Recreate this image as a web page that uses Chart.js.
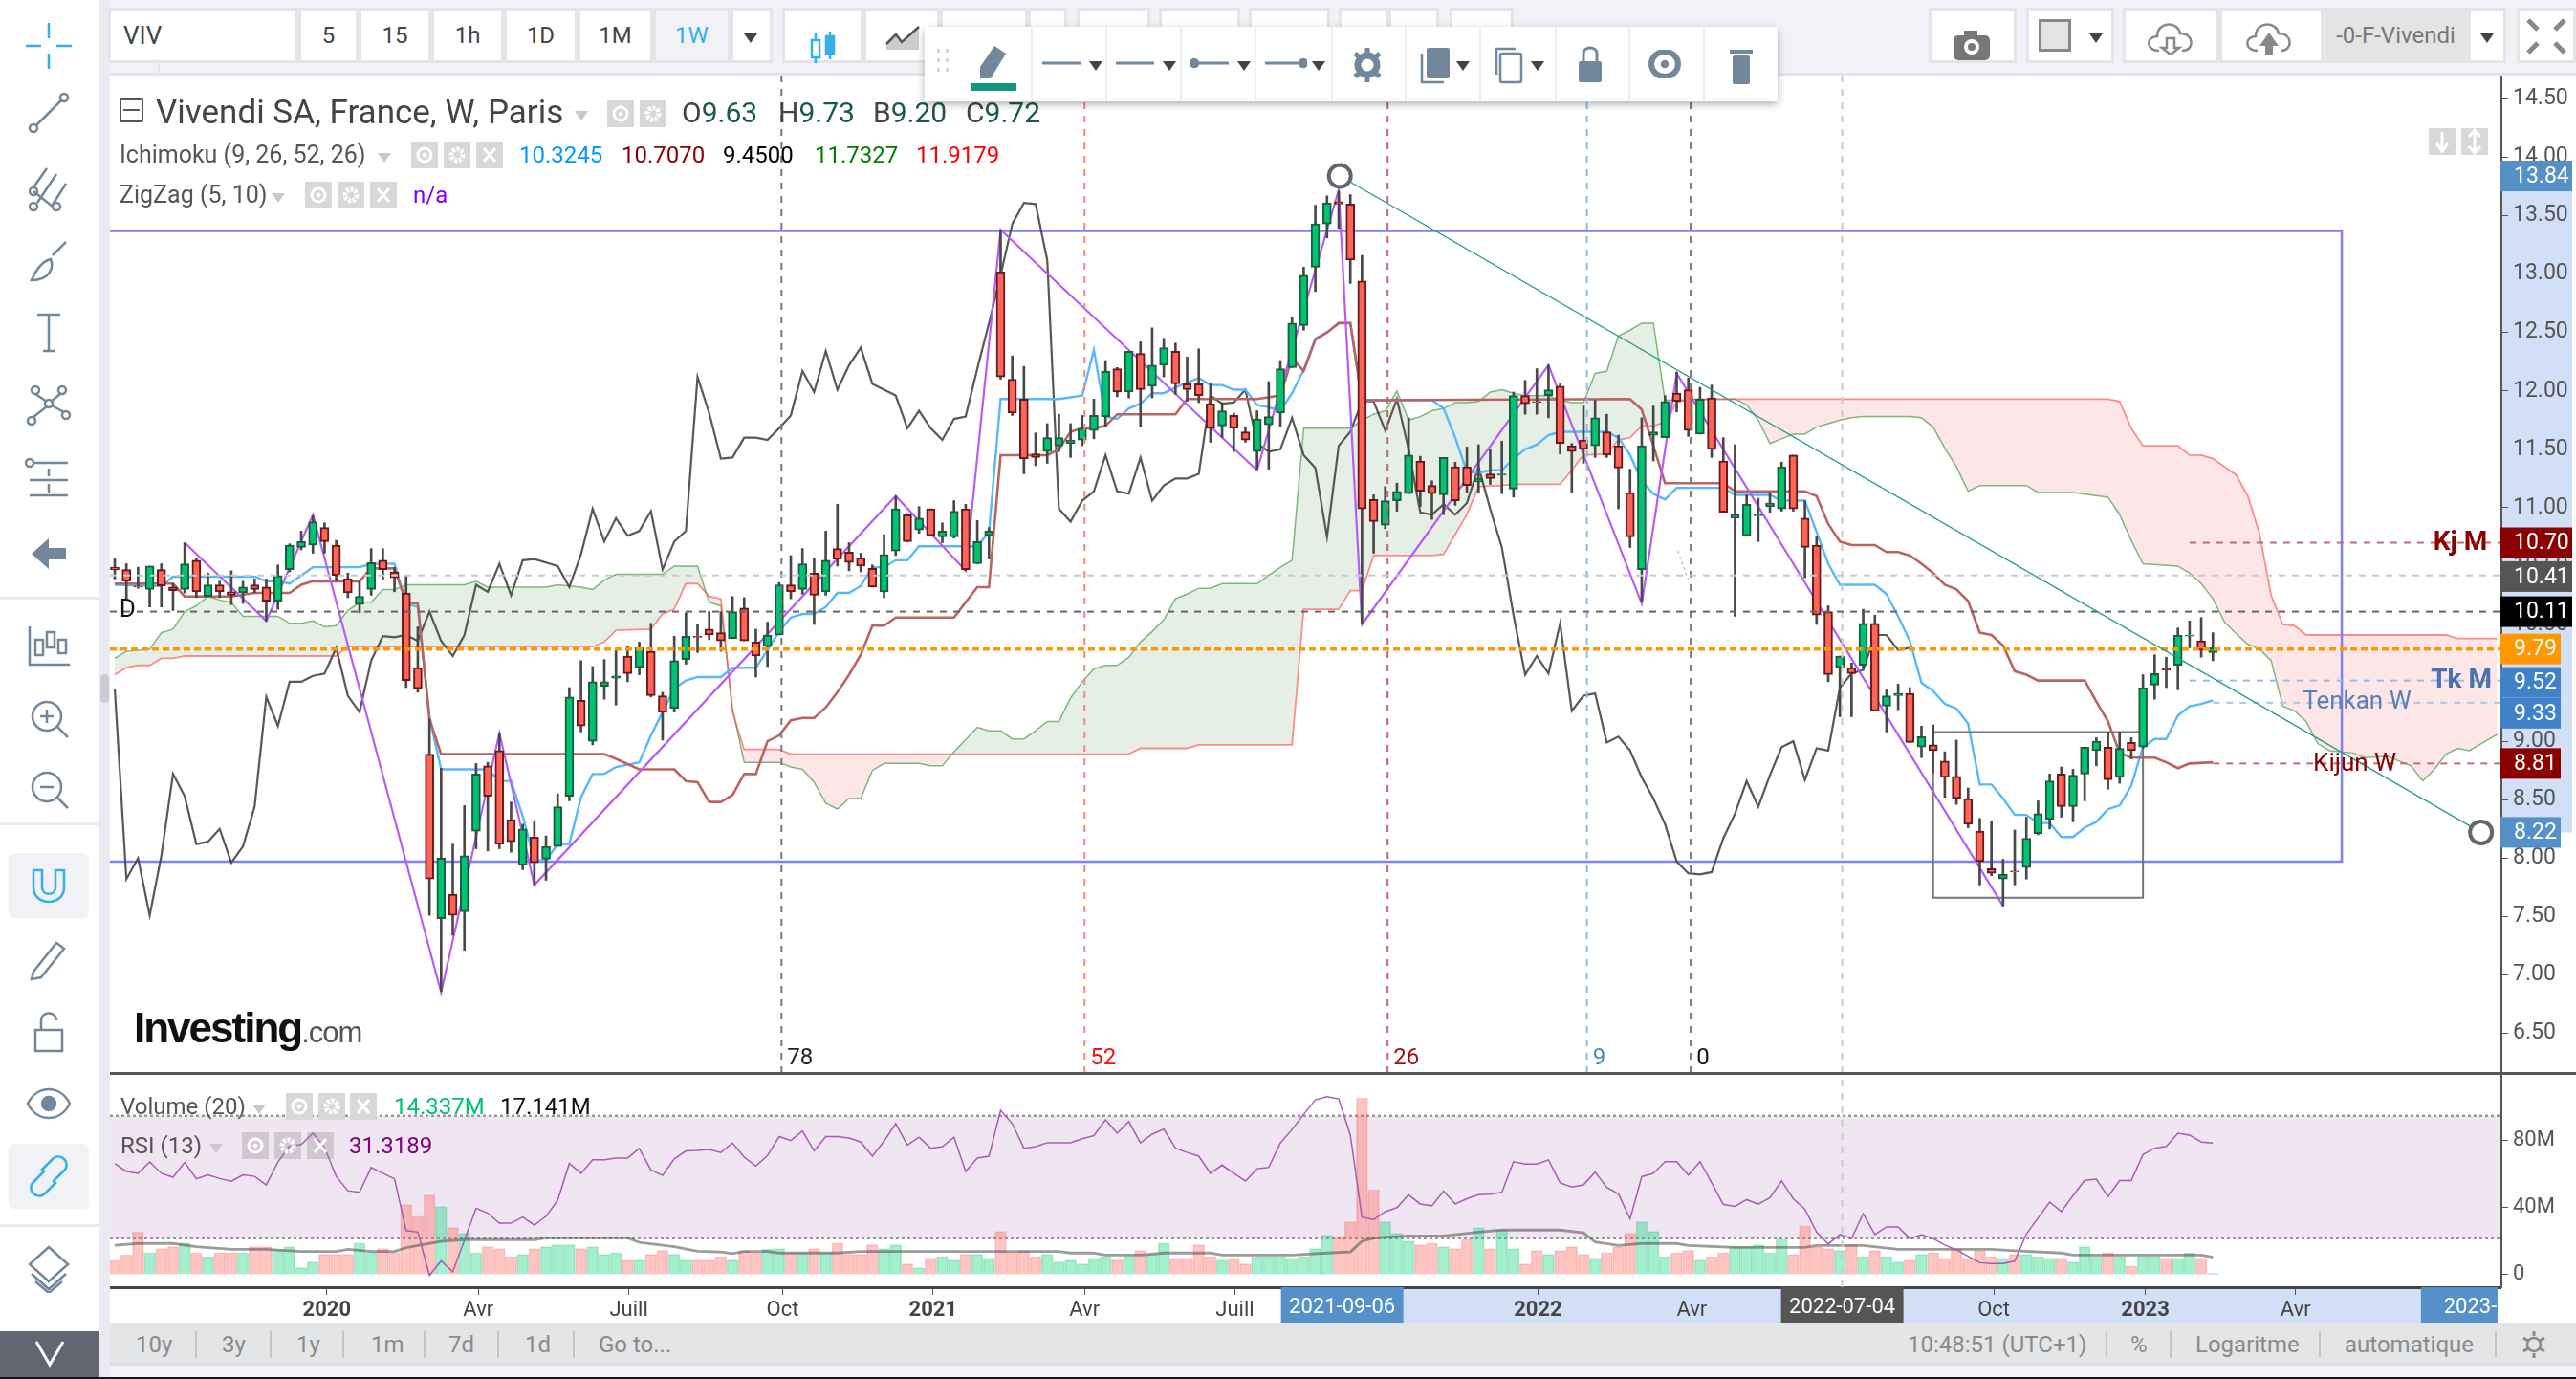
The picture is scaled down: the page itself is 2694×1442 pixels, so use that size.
<!DOCTYPE html>
<html>
<head>
<meta charset="utf-8">
<title>Vivendi SA</title>
<script src="https://cdn.jsdelivr.net/npm/chart.js@4"></script>
<style>
html,body{margin:0;padding:0;background:#f0f2f6;overflow:hidden;width:2694px;height:1442px;font-family:Roboto,sans-serif}
.abs{position:absolute;box-sizing:border-box;white-space:nowrap}
canvas{position:absolute}
</style>
</head>
<body>
<script>
// ローソク足 (週足 0..180)
const opens = [10.49,10.47,10.33,10.30,10.47,10.32,10.30,10.55,10.24,10.34,10.28,10.27,10.34,10.32,10.20,10.47,10.66,10.68,10.83,10.68,
10.39,10.17,10.30,10.55,10.45,10.27,9.63,8.89,7.48,7.69,7.54,8.23,8.79,8.92,8.33,7.94,8.18,7.99,8.10,8.53,
9.35,9.00,9.47,9.54,9.73,9.63,9.77,9.39,9.28,9.70,9.90,9.96,9.93,9.88,10.14,9.85,9.81,9.91,10.34,10.30,
10.44,10.28,10.65,10.62,10.57,10.48,10.28,10.63,10.94,10.81,10.99,10.75,10.75,10.99,10.52,10.76,13.02,12.10,11.93,11.46,
11.48,11.53,11.55,11.58,11.66,11.78,12.19,11.99,12.32,12.04,12.22,12.34,12.06,12.06,11.89,11.70,11.79,11.65,11.48,11.71,
11.81,12.20,12.56,13.06,13.43,13.62,13.60,12.94,11.07,10.85,11.06,11.12,11.40,11.19,11.11,11.35,11.35,11.22,11.29,11.28,
11.16,11.96,11.91,11.96,12.04,11.53,11.58,11.53,11.65,11.53,11.13,10.47,11.62,11.60,11.98,12.01,11.63,11.94,11.40,10.91,
10.76,10.93,11.01,10.99,11.45,10.91,10.68,10.11,9.63,9.63,9.65,10.01,9.30,9.39,9.41,8.95,8.97,8.83,8.70,8.51,
8.23,7.91,7.82,7.89,7.92,8.21,8.33,8.72,8.44,8.72,8.92,8.95,8.69,8.99,8.95,9.48,9.62,9.65,9.90,9.86,9.76];
const highs = [10.57,10.52,10.49,10.50,10.52,10.35,10.70,10.57,10.44,10.37,10.46,10.37,10.39,10.39,10.51,10.69,10.80,10.93,10.87,10.72,
10.44,10.37,10.65,10.65,10.49,10.42,9.98,9.19,8.77,8.12,8.45,8.81,8.82,9.07,8.48,8.29,8.32,8.19,8.55,9.46,
9.69,9.64,9.70,9.79,9.81,9.85,10.01,9.42,9.90,10.10,10.00,10.11,10.11,10.24,10.23,9.96,10.02,10.36,10.59,10.65,
10.57,10.80,11.03,10.70,10.61,10.51,10.77,11.10,10.95,11.01,10.99,10.87,11.06,11.03,10.89,10.83,13.38,12.30,12.21,11.64,
11.72,11.80,11.72,11.79,11.93,12.26,12.20,12.34,12.42,12.54,12.45,12.41,12.29,12.36,12.06,11.90,11.81,11.69,11.83,12.08,
12.26,12.63,13.06,13.59,13.67,13.71,13.68,13.16,11.11,11.18,11.21,11.77,11.44,11.23,11.43,11.39,11.52,11.54,11.50,11.57,
11.99,12.09,12.19,12.22,12.06,11.55,11.87,11.92,11.80,11.62,11.33,11.77,11.87,11.96,12.16,12.11,12.03,12.05,11.60,11.54,
11.11,11.08,11.13,11.39,11.45,11.06,10.75,10.16,9.73,9.67,10.13,10.08,9.44,9.49,9.46,9.13,9.14,8.91,9.01,8.60,
8.34,8.32,7.99,8.24,8.35,8.49,8.72,8.78,8.76,8.95,9.03,9.08,9.08,9.03,9.57,9.74,9.72,9.97,10.03,10.06,9.93];
const lows = [10.39,10.22,10.31,10.15,10.15,10.12,10.27,10.23,10.24,10.23,10.17,10.18,10.27,10.03,10.13,10.45,10.64,10.61,10.61,10.37,
10.23,10.10,10.25,10.38,10.28,9.46,9.42,7.51,6.86,7.34,7.21,8.08,8.06,8.08,8.05,7.90,7.77,7.81,8.10,8.49,
9.08,8.97,9.36,9.31,9.51,9.57,9.38,9.01,9.25,9.66,9.76,9.87,9.77,9.88,9.86,9.55,9.64,9.91,10.22,10.26,
10.00,10.25,10.50,10.46,10.45,10.32,10.23,10.59,10.71,10.78,10.76,10.70,10.74,10.46,10.52,10.56,12.10,11.79,11.29,11.36,
11.38,11.48,11.43,11.53,11.59,11.69,11.95,11.94,11.69,11.94,12.12,11.97,11.91,11.90,11.56,11.60,11.48,11.56,11.33,11.33,
11.69,12.20,12.52,12.85,13.31,13.39,12.92,10.01,10.61,10.82,10.97,11.12,11.01,10.90,10.94,11.02,11.13,11.13,11.20,11.12,
11.09,11.80,11.80,11.77,11.46,11.13,11.38,11.43,11.43,10.99,10.66,10.20,11.40,11.60,11.82,11.61,11.63,11.43,10.96,10.07,
10.76,10.71,10.96,10.97,10.97,10.40,10.00,9.51,9.21,9.21,9.62,9.26,9.08,9.27,8.99,8.86,8.73,8.52,8.46,8.26,
7.77,7.85,7.59,7.77,7.82,8.20,8.25,8.35,8.31,8.49,8.79,8.59,8.64,8.85,8.94,9.36,9.46,9.44,9.80,9.72,9.69];
const closes = [10.47,10.37,10.32,10.50,10.33,10.29,10.52,10.28,10.34,10.28,10.25,10.32,10.30,10.20,10.42,10.68,10.71,10.88,10.71,10.42,
10.27,10.24,10.53,10.47,10.40,9.52,9.45,7.82,8.00,7.51,8.02,8.72,8.53,8.12,8.14,8.25,7.96,8.10,8.44,9.38,
9.13,9.51,9.51,9.56,9.58,9.80,9.39,9.25,9.69,9.90,9.89,9.91,9.86,10.11,9.86,9.73,9.91,10.34,10.28,10.52,
10.25,10.55,10.56,10.53,10.50,10.32,10.60,10.99,10.71,10.91,10.76,10.80,10.97,10.47,10.71,10.80,12.12,11.81,11.42,11.43,
11.60,11.60,11.58,11.68,11.79,12.17,11.99,12.34,12.01,12.22,12.37,12.06,12.01,11.96,11.68,11.83,11.68,11.58,11.76,11.78,
12.19,12.58,12.99,13.43,13.61,13.60,13.12,10.99,10.88,11.06,11.14,11.45,11.14,11.12,11.43,11.06,11.19,11.25,11.25,11.29,
11.96,11.89,11.90,12.01,11.55,11.48,11.50,11.77,11.45,11.34,10.75,11.53,11.65,11.91,11.91,11.66,11.93,11.50,10.96,10.94,
11.03,10.94,11.04,11.35,10.99,10.66,10.08,9.57,9.73,9.58,10.01,9.26,9.39,9.41,8.99,9.04,8.92,8.69,8.51,8.29,
7.97,7.87,7.86,7.88,8.17,8.38,8.66,8.44,8.71,8.95,9.00,8.67,8.94,8.92,9.46,9.58,9.61,9.91,9.91,9.78,9.80];

// 一目均衡表 [週, 値]
const tenkan = [[0,10.34],[3,10.33],[4,10.33],[5,10.41],[12,10.41],[13,10.37],[14,10.37],[15,10.35],[17,10.49],[21,10.49],[22,10.52],[24,10.52],[25,10.18],[26,10.15],[27,9.21],[28,8.76],[32,8.76],[33,8.66],[34,8.66],[35,8.36],[36,7.98],[37,7.98],[38,8.12],[39,8.12],[40,8.52],[41,8.72],[42,8.72],[43,8.78],[45,8.82],[46,9.05],[47,9.25],[48,9.45],[49,9.52],[50,9.55],[52,9.55],[53,9.63],[55,9.63],[56,9.78],[57,9.94],[58,10.06],[59,10.09],[60,10.09],[61,10.15],[62,10.27],[63,10.27],[64,10.33],[65,10.49],[66,10.49],[67,10.55],[68,10.55],[69,10.67],[74,10.67],[75,10.79],[76,11.93],[81,11.93],[83,11.96],[84,12.35],[85,11.78],[86,11.76],[87,11.85],[88,11.89],[89,11.98],[90,11.98],[91,12.03],[92,12.07],[93,12.11],[94,12.05],[95,12.05],[96,12.01],[97,12.01],[98,11.88],[99,11.86],[100,11.83],[101,11.98],[102,12.18],[103,12.45],[104,12.50],[105,12.58],[106,12.58],[107,11.92],[113,11.92],[114,11.85],[115,11.60],[116,11.31],[117,11.30],[118,11.32],[119,11.32],[120,11.42],[121,11.50],[122,11.54],[123,11.62],[124,11.65],[128,11.65],[129,11.60],[130,11.45],[131,11.23],[132,11.12],[133,11.07],[134,11.17],[138,11.17],[139,11.11],[142,11.11],[143,11.06],[145,11.06],[146,10.79],[147,10.52],[148,10.34],[151,10.34],[152,10.26],[153,10.07],[154,9.86],[155,9.50],[156,9.43],[157,9.32],[158,9.28],[159,9.15],[160,8.63],[161,8.63],[162,8.51],[163,8.37],[164,8.37],[165,8.30],[166,8.30],[167,8.18],[168,8.18],[169,8.26],[170,8.31],[171,8.42],[172,8.45],[173,8.62],[174,8.95],[175,9.02],[176,9.02],[177,9.22],[178,9.30],[179,9.32],[180,9.35]];
const kijun = [[0,10.35],[5,10.35],[6,10.24],[10,10.24],[12,10.27],[15,10.27],[16,10.34],[17,10.37],[21,10.37],[22,10.48],[24,10.48],[25,10.19],[26,10.18],[27,9.19],[28,8.89],[42,8.89],[43,8.85],[45,8.76],[48,8.76],[49,8.66],[50,8.65],[51,8.48],[52,8.48],[53,8.54],[54,8.72],[55,8.72],[56,9.00],[57,9.05],[58,9.18],[59,9.20],[60,9.20],[61,9.29],[62,9.42],[63,9.57],[64,9.74],[65,9.99],[66,9.99],[67,10.06],[72,10.06],[73,10.19],[74,10.32],[75,10.32],[76,11.45],[80,11.45],[81,11.50],[82,11.65],[83,11.68],[84,11.68],[85,11.70],[86,11.80],[91,11.80],[92,11.93],[98,11.93],[100,11.96],[101,12.28],[102,12.17],[103,12.44],[104,12.50],[105,12.58],[106,12.58],[107,11.92],[130,11.93],[131,11.84],[132,11.53],[133,11.21],[138,11.21],[139,11.14],[145,11.14],[146,11.10],[147,10.86],[148,10.71],[149,10.68],[151,10.68],[152,10.62],[153,10.62],[154,10.59],[155,10.52],[156,10.44],[157,10.34],[158,10.30],[159,10.20],[160,9.93],[161,9.91],[162,9.82],[163,9.60],[164,9.57],[165,9.52],[169,9.52],[170,9.34],[171,9.17],[172,8.90],[173,8.86],[175,8.86],[176,8.82],[177,8.77],[178,8.81],[180,8.82]];
const senkouA = [[0,9.71],[1,9.77],[3,9.79],[4,9.93],[5,9.96],[6,10.11],[7,10.16],[8,10.24],[9,10.21],[10,10.19],[11,10.07],[14,10.07],[15,10.01],[16,10.01],[17,10.03],[18,9.98],[19,9.99],[20,10.12],[21,10.19],[22,10.19],[23,10.30],[24,10.30],[25,10.34],[30,10.34],[31,10.37],[32,10.32],[37,10.32],[38,10.34],[40,10.32],[41,10.30],[42,10.38],[43,10.43],[47,10.43],[48,10.50],[50,10.50],[51,10.19],[52,10.16],[53,9.28],[54,8.82],[57,8.82],[58,8.78],[59,8.76],[60,8.65],[61,8.47],[62,8.42],[63,8.51],[64,8.51],[65,8.75],[66,8.81],[69,8.81],[70,8.79],[71,8.79],[72,8.91],[74,9.12],[75,9.09],[76,9.09],[77,9.02],[78,9.02],[79,9.09],[80,9.17],[81,9.17],[82,9.37],[83,9.51],[84,9.62],[85,9.65],[86,9.65],[87,9.72],[88,9.85],[89,9.94],[90,10.04],[91,10.22],[92,10.26],[93,10.31],[94,10.31],[95,10.35],[98,10.35],[99,10.42],[100,10.49],[101,10.55],[102,11.68],[106,11.68],[107,11.75],[108,11.80],[109,11.83],[110,12.00],[111,11.75],[112,11.78],[113,11.83],[114,11.85],[115,11.90],[116,11.90],[117,11.91],[118,11.99],[119,12.01],[120,11.98],[121,11.96],[123,11.96],[124,11.92],[125,11.90],[126,11.90],[127,12.15],[128,12.17],[129,12.47],[130,12.52],[131,12.58],[132,12.58],[133,11.92],[139,11.93],[140,11.88],[141,11.75],[142,11.55],[143,11.59],[144,11.63],[145,11.63],[146,11.69],[147,11.72],[148,11.75],[149,11.77],[150,11.78],[154,11.78],[155,11.77],[156,11.69],[157,11.51],[158,11.35],[159,11.14],[160,11.19],[164,11.19],[165,11.13],[168,11.13],[171,11.09],[172,10.94],[173,10.72],[174,10.52],[177,10.50],[178,10.44],[179,10.35],[180,10.22],[181,10.02],[182,9.92],[183,9.83],[184,9.79],[185,9.69],[186,9.30],[187,9.26],[188,9.17],[189,8.98],[190,8.92],[191,8.91],[192,8.90],[193,8.86],[195,8.87],[197,8.79],[198,8.66],[199,8.76],[200,8.89],[201,8.94],[202,8.92],[204.4,9.06]];
const senkouB = [[0,9.57],[1,9.63],[2,9.65],[3,9.65],[4,9.71],[5,9.71],[6,9.73],[19,9.73],[20,9.81],[41,9.81],[42,9.85],[43,9.95],[46,9.96],[47,10.09],[48,10.13],[49,10.35],[50,10.35],[51,10.24],[52,10.22],[53,9.25],[54,8.93],[57,8.93],[58,8.89],[87,8.89],[88,8.94],[92,8.94],[93,8.97],[101,8.97],[102,10.13],[105,10.13],[106,10.29],[107,10.29],[108,10.59],[113,10.59],[114,10.60],[116,10.94],[117,11.18],[119,11.19],[120,11.20],[124,11.20],[125,11.32],[126,11.45],[128,11.46],[129,11.58],[130,11.60],[131,11.70],[132,11.70],[133,11.73],[134,11.90],[135,11.93],[171,11.93],[172,11.91],[173,11.68],[174,11.53],[177,11.53],[178,11.45],[179,11.45],[180,11.42],[182,11.28],[183,11.10],[184,10.78],[185,10.25],[186,10.00],[187,9.99],[188,9.91],[200,9.91],[201,9.88],[204.4,9.88]];
const zigzag = [[6,10.70],[13,10.03],[17,10.94],[28,6.85],[33,9.07],[36,7.77],[67,11.10],[73,10.46],[76,13.38],[98,11.32],[105,13.72],[107,10.00],[123,12.22],[131,10.18],[134,12.15],[162,7.59]];

// 描画オブジェクト
const frameWeeks = [-0.41,191.06], frameTop = 13.37, frameBottom = 7.97;
const boxWeeks = [156,174], boxTop = 9.08, boxBottom = 7.66;
const trendWeeks = [105.1,203], trendPrices = [13.84,8.22];
const cycleWeeks = [57.2,83.2,109.2,126.3,135.2];
const cycleLabels = ['78','52','26','9','0'];
const cycleColors = ['#777777','#ff8080','#c46a6a','#8fbce6','#777777'];
const cycleTextColors = ['#222222','#ee1111','#9b1111','#4488cc','#111111'];
const cursorWeek = 148.2;
const levelPrices = [10.42,10.11,9.79];
const levelColors = ['#c9c9c9','#666666','#ff9800'];
const shortWeeks = [178,178,180,180];
const shortPrices = [10.70,9.52,9.33,8.81];
const shortColors = ['#bf6f6f','#9db9df','#a9c6e6','#bf6f6f'];
const noteTexts = ['D','Kj M','Tk M','Tenkan W','Kijun W'];
const noteWeeks = [0.4,198.9,198.7,187.7,188.6];
const notePrices = [10.12,10.70,9.52,9.33,8.80];
const noteColors = ['#111111','#8b0000','#4a72b0','#5b80b8','#8b0000'];
const noteBold = [false,true,true,false,false];

// 右軸の価格ラベル
const priceTicks = [6.5,7,7.5,8,8.5,9,9.5,10,10.5,11,11.5,12,12.5,13,13.5,14,14.5];
const flagPrices = [13.84,10.70,10.41,10.11,9.79,9.52,9.33,8.81,8.22];
const flagColors = ['#5590c8','#8b0000','#555555','#000000','#ff9800','#3f82c8','#3f82c8','#8b0000','#5590c8'];
const flagWide = [true,true,true,true,false,false,false,false,false];
const flagShift = [0,0,0,0,0,2,11,0,0];

// 出来高 (百万株)
const volume = [8.6,12,25.7,13.3,15.6,16.8,19,13.3,11,13.3,13.3,13.3,16.8,16.8,14.9,16.8,4.2,7.6,12.2,12.2,
12.2,19,13.3,15.6,13.3,41.9,35,47.6,40.8,28.2,24.8,13.3,16.8,15.6,11,12.2,15.6,16.8,17.9,17.9,
15.6,16.8,12.2,13.3,8.8,8.8,12.2,14.5,12.2,8.8,8.8,8.8,11,8.8,14.5,13.3,15.2,15.6,13.3,13.3,
15.6,13.3,19,12.2,12.2,17.9,15.6,17.9,6.5,4.2,9.9,11,8.8,12.2,12.2,9.9,25.9,13.3,14.5,11,
12.2,7.6,8.8,6.5,9.9,11,8.8,11,14.5,12.2,19,9.9,9.9,17.9,11,8.8,9.9,6.5,11,11,
11,9.9,11,15.6,23.6,22.5,31.6,105.7,51,31.6,24.8,20.2,17.9,19,16.8,15.6,21.3,28.2,15.6,27,
15.6,6.5,14.5,12.2,14.5,16.8,12.2,9.9,13.3,16.8,24.8,31.6,25.9,11,13.3,14.5,8.8,11,13.3,16.8,
16.8,17.9,13.3,21.3,12.2,29.3,16.8,15.6,14.5,17.9,11,14.5,11,7.6,8.8,12.2,13.3,9.9,15.6,9.9,
14.5,11,9.9,12.2,12.2,11,9.9,9.9,7.6,16.8,11,13.3,11,5.3,11,11,9.9,9.9,13.3,9.9,0.8];
const volumeAvg = [[0,17.7],[2,18.7],[5,18.7],[7,16.8],[10,15.2],[13,15.2],[16,13.9],[19,13.9],[20,15.2],[22,13.9],[24,13.9],[25,16.2],[28,20],[30,21],[36,21],[37,22.1],[44,22.1],[45,19.4],[48,16.8],[50,14.1],[52,13.7],[53,12.6],[54,13.9],[56,13.9],[57,13],[62,13],[64,13.9],[81,13.9],[82,13],[84,13],[85,11.8],[88,11.8],[90,13],[94,13],[95,11.8],[101,11.8],[104,13],[106,13.7],[107,20],[108,21.9],[111,23.2],[114,23.2],[117,25.5],[119,26.7],[124,26.7],[126,25.1],[127,19.6],[129,17.5],[131,18.7],[134,18.7],[135,17.5],[139,16.4],[145,16.4],[146,17.5],[150,17.5],[153,15.2],[161,15.2],[163,14.3],[167,13],[168,11.8],[179,11.8],[180,10.5]];
const volumeTicks = [0,40,80];

// RSI
const rsi = [54.4,51.8,51.2,54.9,51.2,49.9,54.8,49.4,50.7,49.5,48.6,50.7,50.2,47.4,54.9,60.1,60.6,64.3,59.6,50.2,
45.5,45.0,53.1,51.2,49.4,32.5,32.0,17.9,22.6,19.0,29.4,39.8,38.2,34.9,34.9,36.9,34.3,37.2,42.4,54.4,
51.2,55.6,55.6,56.2,56.2,59.3,52.3,50.5,55.9,58.5,58.7,59.0,58.0,61.1,56.5,53.6,57.0,63.2,61.9,65.0,
58.5,63.2,63.2,62.7,61.4,56.8,61.7,67.4,60.4,63.0,59.4,59.9,63.0,51.8,56.2,56.8,71.8,67.4,59.4,59.9,
61.2,61.2,61.2,62.5,63.5,68.7,64.3,68.1,61.1,64.0,65.6,59.4,58.0,56.8,51.2,53.9,51.2,48.7,52.7,53.1,
61.1,65.5,70.5,75.2,76.2,75.5,63.7,36.9,36.1,38.7,40.0,44.2,41.2,40.6,45.4,41.2,42.9,44.2,44.4,45.0,
55.0,54.2,54.2,55.6,48.1,46.7,47.4,51.6,46.6,44.5,36.3,50.1,51.2,55.0,55.0,50.6,55.0,48.1,41.0,40.4,
42.6,41.1,43.2,48.7,42.9,39.5,32.0,28.1,31.2,29.9,38.0,31.2,33.7,33.7,29.9,31.2,29.9,27.8,26.2,24.1,
22.0,21.7,21.7,22.5,31.4,36.6,41.8,38.7,43.9,48.9,49.3,43.6,48.8,48.8,57.3,59.4,60.0,64.3,63.7,61.4,61.1];
const rsiUpper = 70, rsiLower = 30;

// 時間軸
const xTickWeeks = [18.2,31.2,44.1,57.3,70.2,83.2,96.1,122.1,135.3,161.2,174.2,187.1];
const xTickLabels = ['2020','Avr','Juill','Oct','2021','Avr','Juill','2022','Avr','Oct','2023','Avr'];
const xFlagWeeks = [105.3,148.2,203.1];
const xFlagLabels = ['2021-09-06','2022-07-04','2023-07'];
const xFlagColors = ['#5590c8','#555555','#5590c8'];

const xMin = -0.41, xMax = 204.67;
const UP = '#00c473', UP_EDGE = '#1f5c3e', DOWN = '#ff6459', DOWN_EDGE = '#661a1a';
const FONT = 'Roboto, sans-serif';

// ---- 画面の枠 (ツールバー類) ----
function box(x, y, w, h, css, html) {
    const d = document.createElement('div');
    d.className = 'abs';
    d.style.cssText = `left:${x}px;top:${y}px;width:${w}px;height:${h}px;${css || ''}`;
    if (html) d.innerHTML = html;
    document.body.appendChild(d);
    return d;
}
function text(x, y, str, size, color, extra) {
    return box(x, y - size, 0, size * 2, `font-size:${size}px;line-height:${size * 2}px;color:${color};${extra || ''}`, str);
}
function cell(x, w, css, str, size, color) {
    box(x, 8, w, 58, 'background:#fff;border:3px solid #e3e5e8;text-align:center;line-height:52px;' +
        `font-size:${size || 24}px;color:${color || '#444'};` + (css || ''), str || '');
}
function icon(x, y, w, h, inner, stroke) {
    box(x, y, w, h, '', `<svg width="${w}" height="${h}" viewBox="0 0 ${w} ${h}" fill="none" stroke="${stroke || '#73879b'}" stroke-width="2.5">${inner}</svg>`);
}
function tri(x, y, c) {
    icon(x, y, 16, 12, `<path d="M1 1H15L8 11Z" fill="${c || '#444'}" stroke="none"/>`);
}
function chips(xs, y, dim) {
    xs.forEach((x, k) => {
        const glyph = k === 2 ? '<path d="M8 7L20 21M20 7L8 21" stroke="#fff" stroke-width="3"/>'
            : k === 0 ? '<circle cx="14" cy="14" r="7" stroke="#fff" stroke-width="3"/><circle cx="14" cy="14" r="2" fill="#fff" stroke="#fff"/>'
            : '<circle cx="14" cy="14" r="6" stroke="#fff" stroke-width="5" stroke-dasharray="3 1.5"/>';
        box(x, y, 28, 28, `background:${dim ? 'rgba(150,140,150,.35)' : '#d8d8d8'}`,
            `<svg width="28" height="28" fill="none">${glyph}</svg>`);
    });
}

box(0, 0, 104, 1442, 'background:#fff');
box(104, 0, 11, 1442, 'background:#e9ebf1');
box(115, 78, 2579, 1305, 'background:#fff');

// 上部ツールバー
cell(113, 199, 'text-align:left;padding-left:13px;font-size:26px', 'VIV');
[[312,63,'5'],[375,76,'15'],[451,76,'1h'],[527,77,'1D'],[604,79,'1M']].forEach(c => cell(c[0], c[1], '', c[2]));
cell(683, 81, 'background:#f0f2f5', '1W', 24, '#35b0e6');
cell(764, 44);
tri(777, 31);
cell(818, 85); cell(903, 80);
icon(846, 30, 30, 40, '<path d="M7 5V36M22 3V32" stroke="#35b0e6"/><rect x="3" y="12" width="8" height="18" fill="#fff" stroke="#35b0e6"/><rect x="18" y="8" width="8" height="18" fill="#35b0e6" stroke="#35b0e6"/>');
icon(925, 24, 38, 30, '<path d="M2 28V22L12 12L18 20L36 4V28Z" fill="#ccc" stroke="none"/><path d="M2 22L12 12L18 20L36 4" stroke="#555"/>');
[[983,92],[1075,41],[1126,77],[1212,85],[1306,85],[1400,52],[1452,53],[1516,67]].forEach(c => cell(c[0], c[1]));
cell(2017, 92); cell(2119, 92); cell(2220, 101); cell(2321, 109);
cell(2430, 151, 'background:#e4e4e4', '-0-F-Vivendi', 24, '#777');
cell(2581, 40); cell(2632, 62);
icon(2040, 30, 44, 36, '<rect x="3" y="7" width="38" height="26" rx="5" fill="#777" stroke="none"/><rect x="14" y="2" width="14" height="8" fill="#777" stroke="none"/><circle cx="22" cy="19" r="6" fill="#777" stroke="#fff" stroke-width="4"/>');
box(2132, 20, 34, 34, 'background:#e3e3e3;border:3px solid #888');
tri(2184, 31);
icon(2244, 20, 54, 38, '<path d="M14 33C0 33 0 18 12 18C12 2 34 2 36 15C50 14 52 33 38 33" stroke="#888"/><path d="M22 20V30H17L26 37L35 30H30V20Z" fill="#fff" stroke="#888"/>');
icon(2347, 20, 54, 38, '<path d="M14 33C0 33 0 18 12 18C12 2 34 2 36 15C50 14 52 33 38 33" stroke="#888"/><path d="M22 38V28H16L26 14L36 28H30V38Z" fill="#888" stroke="none"/>');
tri(2593, 31);
icon(2640, 17, 46, 42, '<path d="M4 4L14 14M42 4L32 14M4 38L14 28M42 38L32 28" stroke="#888" stroke-width="5"/>');
box(115, 66, 52, 12, 'border-right:2px solid #e3e5e8');
box(115, 76, 2579, 3, 'background:#e3e5e8');

// 左のツールバー
const ic = [
 [48,'<path d="M26 2V18M26 34V50M2 26H18M34 26H50" stroke="#35b0e6"/>'],
 [118,'<circle cx="10" cy="42" r="4"/><circle cx="42" cy="10" r="4"/><path d="M13 39L39 13"/>'],
 [198,'<circle cx="10" cy="28" r="4"/><circle cx="10" cy="44" r="4"/><circle cx="34" cy="44" r="4"/><path d="M10 24L24 4M14 40L34 10M30 42L44 20M10 28L30 44"/>'],
 [275,'<path d="M8 44C14 30 20 24 28 22C32 32 26 44 8 44ZM30 18L44 4"/>'],
 [349,'<path d="M14 6H38M26 6V44M20 44H32"/>'],
 [424,'<circle cx="12" cy="10" r="4"/><circle cx="40" cy="10" r="4"/><circle cx="8" cy="42" r="4"/><circle cx="44" cy="36" r="4"/><circle cx="26" cy="24" r="4"/><path d="M12 14L24 22M38 14L28 22M10 38L24 27M42 33L29 26"/>'],
 [502,'<circle cx="6" cy="8" r="4"/><path d="M10 8H46M6 26H46M26 14V22M26 30V40M6 42H46"/>'],
 [579,'<path d="M8 26L26 10V20H44V32H26V42Z" fill="#73879b" stroke="none"/>'],
 [675,'<path d="M6 6V46H48" /><rect x="12" y="20" width="8" height="16"/><rect x="24" y="12" width="8" height="16"/><rect x="36" y="20" width="8" height="14"/>'],
 [751,'<circle cx="24" cy="24" r="15"/><path d="M35 35L46 46M17 24H31M24 17V31"/>'],
 [825,'<circle cx="24" cy="24" r="15"/><path d="M35 35L46 46M17 24H31"/>'],
 [926,'<path d="M10 10V28C10 48 42 48 42 28V10H33V28C33 37 19 37 19 28V10Z" stroke="#35b0e6"/>'],
 [1002,'<path d="M10 40L34 10L42 16L18 46L8 48Z"/>'],
 [1079,'<rect x="12" y="24" width="28" height="22"/><path d="M18 24V14C18 4 34 4 34 14"/>'],
 [1154,'<path d="M4 26C14 6 38 6 48 26C38 46 14 46 4 26Z"/><circle cx="26" cy="26" r="7" fill="#73879b"/>'],
 [1230,'<path d="M18 20L30 8C38 0 50 12 42 20L30 32M34 32L22 44C14 52 2 40 10 32L22 20" stroke="#35b0e6"/>'],
 [1326,'<path d="M26 4L46 22L26 40L6 22ZM8 32L26 48L44 32M12 40L26 52L40 40"/>']
];
box(9, 892, 84, 68, 'background:#f0f2f6;border-radius:6px');
box(9, 1196, 84, 68, 'background:#f0f2f6;border-radius:6px');
ic.forEach(a => icon(25, a[0] - 26, 52, 52, a[1]));
[[0,624],[0,860],[0,1280]].forEach(a => box(a[0], a[1], 104, 3, 'background:#e3eef3'));
box(0, 1392, 104, 48, 'background:#636670');
icon(35, 1400, 34, 30, '<path d="M3 3L17 27L31 3" stroke="#fff" stroke-width="3"/>');
box(105, 705, 9, 30, 'background:#c9ccd2;border-radius:4px');

// キャンバス
const priceCanvas = document.createElement('canvas');
priceCanvas.width = 2575; priceCanvas.height = 1043;
priceCanvas.style.cssText = 'left:115px;top:79px';
document.body.appendChild(priceCanvas);
const lowerCanvas = document.createElement('canvas');
lowerCanvas.width = 2575; lowerCanvas.height = 260;
lowerCanvas.style.cssText = 'left:115px;top:1123px';
document.body.appendChild(lowerCanvas);
box(115, 1121, 2579, 3, 'background:#555');

// 下部バー
box(115, 1383, 2579, 45, 'background:#e4e5e7;border-bottom:3px solid #dcdee0');
box(0, 1440, 2694, 2, 'background:#10151c');
[[142,'10y'],[232,'3y'],[310,'1y'],[388,'1m'],[469,'7d'],[549,'1d'],[626,'Go to...'],[1995,'10:48:51 (UTC+1)'],[2228,'%'],[2296,'Logaritme'],[2452,'automatique']]
    .forEach(a => text(a[0], 1406, a[1], 24, '#8a8a8a'));
[204,282,358,443,520,599,2202,2269,2425,2609].forEach(x => box(x, 1392, 2, 28, 'background:#c4c5c7'));
icon(2636, 1390, 28, 32, '<circle cx="14" cy="16" r="7" stroke="#8a8a8a"/><path d="M14 2V7M14 25V30M3 9L8 12M20 20L25 23M3 23L8 20M20 12L25 9" stroke="#8a8a8a" stroke-width="3"/>');

// 凡例
box(125, 103, 25, 25, 'border:2px solid #555;border-radius:2px', '<div style="margin:9px 2px;height:2px;background:#555"></div>');
text(163, 118, 'Vivendi SA, France, W, Paris', 35, '#444');
tri(600, 112, '#c9c9c9');
chips([635,669], 105);
[[713,'O','9.63'],[814,'H','9.73'],[913,'B','9.20'],[1010,'C','9.72']].forEach(a =>
    text(a[0], 118, `<span style="color:#444">${a[1]}</span>${a[2]}`, 30, '#1a5c3e'));
text(125, 162, 'Ichimoku (9, 26, 52, 26)', 25, '#555');
tri(394, 156, '#c9c9c9');
chips([430,464,498], 148);
[[543,'10.3245','#0099ff'],[650,'10.7070','#8b0000'],[756,'9.4500','#000'],[852,'11.7327','#008000'],[958,'11.9179','#ff0000']].forEach(a =>
    text(a[0], 162, a[1], 24, a[2]));
text(125, 204, 'ZigZag (5, 10)', 25, '#555');
tri(283, 198, '#c9c9c9');
chips([319,353,387], 190);
text(432, 204, 'n/a', 24, '#8000ff');
[[2540,'M14 4V22M8 16L14 24L20 16'],[2574,'M14 2V26M8 9L14 2L20 9M8 19L14 26L20 19']].forEach(a =>
    box(a[0], 134, 28, 28, 'background:#d8d8d8', `<svg width="28" height="28" fill="none" stroke="#fff" stroke-width="3"><path d="${a[1]}"/></svg>`));
text(140, 1075, '<span style="font-family:\'Liberation Sans\';font-weight:700;letter-spacing:-2px;color:#111">Investing</span><span style="font-family:\'Liberation Sans\';font-size:31px;color:#555;letter-spacing:-1px">.com</span>', 44, '#111');
text(126, 1157, 'Volume (20)', 24, '#555');
tri(263, 1151, '#c9c9c9');
chips([299,333,366], 1143);
text(412, 1157, '14.337M', 24, '#00c176');
text(523, 1157, '17.141M', 24, '#111');
text(126, 1198, 'RSI (13)', 24, '#555');
tri(218, 1192, '#c9c9c9');
chips([253,287,321], 1184, true);
text(365, 1198, '31.3189', 24, '#800080');

// フローティングツールバー
box(967, 28, 892, 78, 'background:#fff;box-shadow:0 3px 8px rgba(0,0,0,.3)');
[1078,1156,1234,1312,1392,1469,1547,1626,1703,1781].forEach(x => box(x, 28, 2, 78, 'background:#eceef0'));
icon(977, 50, 20, 30, '<path d="M3 3H6M12 3H15M3 13H6M12 13H15M3 23H6M12 23H15" stroke="#d5d5d5" stroke-width="4"/>');
icon(1022, 46, 40, 36, '<path d="M3 36L3 24L18 2L30 10L14 36Z" fill="#73879b" stroke="none"/>');
box(1015, 87, 48, 8, 'background:#16967c');
[[1090,0],[1167,0],[1245,1],[1323,2]].forEach(a => {
    const dot = a[1] === 1 ? '<circle cx="4" cy="8" r="4" fill="#73879b"/>' : a[1] === 2 ? '<circle cx="40" cy="8" r="4" fill="#73879b"/>' : '';
    icon(a[0], 58, 44, 16, `<path d="M0 8H40" stroke-width="3"/>${dot}`);
    tri(a[0] + 48, 60, '#444');
});
icon(1414, 48, 32, 40, '<circle cx="16" cy="20" r="10" stroke-width="7"/><path d="M16 2V8M16 32V38M3 8L8 12M24 28L29 32M3 32L8 28M24 12L29 8" stroke-width="5"/>');
icon(1484, 48, 34, 40, '<rect x="8" y="2" width="24" height="32" rx="2" fill="#73879b" stroke="none"/><path d="M3 8V38H26"/>');
tri(1522, 60, '#444');
icon(1563, 48, 30, 40, '<rect x="6" y="8" width="22" height="30" rx="2"/><path d="M2 30V3H22"/>');
tri(1600, 60, '#444');
icon(1650, 48, 26, 40, '<rect x="1" y="16" width="24" height="22" rx="2" fill="#73879b" stroke="none"/><path d="M6 16V8C6 0 20 0 20 8V16" stroke-width="3"/>');
icon(1724, 52, 34, 30, '<ellipse cx="17" cy="15" rx="14" ry="13" stroke-width="6"/><circle cx="17" cy="15" r="3" fill="#73879b"/>');
icon(1808, 48, 26, 40, '<rect x="4" y="10" width="18" height="30" rx="2" fill="#73879b" stroke="none"/><path d="M1 6H25" stroke-width="4"/>');

// ---- チャート ----
const xy = a => a.map(p => ({x: p[0], y: p[1]}));
const path = (data, color, width, dash, order, extra) => Object.assign({
    type: 'line', data: xy(data), borderColor: color, borderWidth: width, borderDash: dash || [],
    pointRadius: 0, tension: 0, order: order
}, extra || {});
const isUp = i => closes[i] >= opens[i];
// 軸ラベル分の余白を消してプロット領域をキャンバスいっぱいにする
const fitWidth = s => { s.width = 75; s.paddingTop = 0; s.paddingBottom = 0; };

const priceSets = [
    path(senkouA, 'rgba(60,150,60,.65)', 1.5, null, 30, {fill: {target: '+1', above: 'rgba(0,100,0,.1)', below: 'rgba(240,60,70,.13)'}}),
    path(senkouB, 'rgba(255,70,70,.6)', 1.8, null, 29),
    path([[frameWeeks[0],frameTop],[frameWeeks[1],frameTop],[frameWeeks[1],frameBottom],[frameWeeks[0],frameBottom]], '#8080f5', 2.5, null, 28),
    path(closes.slice(26).map((c, i) => [i, c]), 'rgba(70,70,70,.9)', 2.2, null, 14),
    path(tenkan, '#58b8fc', 2.4, null, 13),
    path(kijun, '#b96462', 2.6, null, 12),
    path(zigzag, '#b65cf8', 2.2, null, 11),
    path([[boxWeeks[0],boxTop],[boxWeeks[1],boxTop],[boxWeeks[1],boxBottom],[boxWeeks[0],boxBottom],[boxWeeks[0],boxTop]], '#777', 2, null, 10),
    {type: 'bar', data: highs.map((h, i) => ({x: i, y: [lows[i], h]})), backgroundColor: '#484848', barThickness: 2, grouped: false, order: 6},
    {type: 'bar', data: opens.map((o, i) => ({x: i, y: [o, closes[i]]})),
        backgroundColor: opens.map((o, i) => isUp(i) ? UP : DOWN),
        borderColor: opens.map((o, i) => isUp(i) ? UP_EDGE : DOWN_EDGE),
        borderWidth: 2, borderSkipped: false, barThickness: 9, grouped: false, order: 5}
];
cycleWeeks.forEach((w, k) => priceSets.push(path([[w,6.16],[w,14.7]], cycleColors[k], 2, [7,7], 4)));
priceSets.push(path([[cursorWeek,6.16],[cursorWeek,14.7]], '#c9c9c9', 2, [7,7], 4));
levelPrices.forEach((p, k) => priceSets.push(path([[xMin,p],[xMax,p]], levelColors[k], k === 2 ? 3.5 : 2, k === 2 ? [7,4] : [7,7], 3)));
shortPrices.forEach((p, k) => priceSets.push(path([[shortWeeks[k],p],[xMax,p]], shortColors[k], 2, [7,7], 3)));
priceSets.push(path([[134.1,10.63],[135,10.38]], '#aaa', 1, [3,3], 3));
priceSets.push(path(trendWeeks.map((w, k) => [w, trendPrices[k]]), '#1f9c84', 1.3, null, 2));
priceSets.push(path(trendWeeks.map((w, k) => [w, trendPrices[k]]), '#666', 0, null, 1, {
    showLine: false, pointRadius: 11.5, pointBorderWidth: 4, pointBorderColor: '#666', pointBackgroundColor: '#fff'}));

// 右軸の帯・フラッグと図中の文字
const priceDecor = {
    id: 'priceDecor',
    beforeDraw(chart) {
        const c = chart.ctx, y = chart.scales.y;
        c.fillStyle = '#d2e0f7';
        const t = y.getPixelForValue(flagPrices[0]), b = y.getPixelForValue(flagPrices[8]);
        c.fillRect(y.left, t, chart.width - y.left, b - t);
    },
    afterDraw(chart) {
        const c = chart.ctx, x = chart.scales.x, y = chart.scales.y;
        c.textBaseline = 'middle'; c.textAlign = 'left';
        noteTexts.forEach((s, k) => {
            c.font = `${noteBold[k] ? 'bold 28px' : '26px'} ${FONT}`;
            c.fillStyle = noteColors[k];
            c.fillText(s, x.getPixelForValue(noteWeeks[k]), y.getPixelForValue(notePrices[k]));
        });
        c.font = `24px ${FONT}`;
        cycleLabels.forEach((s, k) => {
            c.fillStyle = cycleTextColors[k];
            c.fillText(s, x.getPixelForValue(cycleWeeks[k]) + 6, y.getPixelForValue(6.28));
        });
        c.font = `23px ${FONT}`;
        flagPrices.forEach((p, k) => {
            const py = y.getPixelForValue(p) + flagShift[k];
            c.fillStyle = flagColors[k];
            c.fillRect(y.left, py - 16, (flagWide[k] ? 75 : 63), 32);
            c.fillStyle = '#fff';
            c.fillText(p.toFixed(2), y.left + 14, py + 1);
        });
    }
};

new Chart(priceCanvas, {
    type: 'bar',
    data: {datasets: priceSets},
    plugins: [priceDecor],
    options: {
        responsive: false, animation: false, events: [],
        layout: {padding: 0, autoPadding: false},
        plugins: {legend: {display: false}, tooltip: {enabled: false}},
        scales: {
            x: {type: 'linear', display: false, min: xMin, max: xMax, offset: false, grid: {offset: false}},
            y: {
                type: 'linear', position: 'right', min: 6.16, max: 14.70,
                afterFit: fitWidth,
                afterBuildTicks: s => { s.ticks = priceTicks.map(v => ({value: v})); },
                border: {color: '#555', width: 3},
                grid: {drawOnChartArea: false, drawTicks: true, tickLength: 8, color: '#555'},
                ticks: {callback: v => v.toFixed(2), color: '#555', padding: 5, font: {family: FONT, size: 23}}
            }
        }
    }
});

const lowerDecor = {
    id: 'lowerDecor',
    beforeDraw(chart) {
        const c = chart.ctx, x = chart.scales.x, a = chart.chartArea;
        c.fillStyle = '#d2e0f7';
        c.fillRect(x.getPixelForValue(xFlagWeeks[0]), a.bottom, x.getPixelForValue(xFlagWeeks[2]) - x.getPixelForValue(xFlagWeeks[0]), chart.height - a.bottom);
    },
    afterDraw(chart) {
        const c = chart.ctx, x = chart.scales.x, a = chart.chartArea;
        c.save();
        c.beginPath();
        c.rect(a.left, a.bottom, a.right - a.left - 3, chart.height - a.bottom);
        c.clip();
        c.textBaseline = 'middle'; c.textAlign = 'center';
        c.font = `22px ${FONT}`;
        xFlagWeeks.forEach((w, k) => {
            const px = x.getPixelForValue(w);
            c.fillStyle = xFlagColors[k];
            c.fillRect(px - 64, a.bottom, 128, chart.height - a.bottom);
            c.fillStyle = '#fff';
            c.fillText(xFlagLabels[k], px, a.bottom + 21);
        });
        c.restore();
    }
};

new Chart(lowerCanvas, {
    type: 'bar',
    data: {datasets: [
        path([[xMin,rsiUpper],[xMax,rsiUpper]], 'rgba(130,130,130,.8)', 2.5, [3,3], 12, {yAxisID: 'yr', fill: {target: '+1', above: 'rgba(140,60,150,.13)', below: 'rgba(140,60,150,.13)'}}),
        path([[xMin,rsiLower],[xMax,rsiLower]], 'rgba(130,130,130,.8)', 2.5, [3,3], 11, {yAxisID: 'yr'}),
        {type: 'bar', yAxisID: 'yv', data: volume.map((v, i) => ({x: i, y: v})),
            backgroundColor: volume.map((v, i) => isUp(i) ? 'rgba(0,210,120,.36)' : 'rgba(255,90,80,.35)'),
            borderColor: volume.map((v, i) => isUp(i) ? 'rgba(0,170,100,.25)' : 'rgba(240,80,70,.25)'),
            borderWidth: 1, barThickness: 12, grouped: false, order: 6},
        path(volumeAvg, 'rgba(90,90,90,.6)', 2.8, null, 4, {yAxisID: 'yv'}),
        path(rsi.map((r, i) => [i, r]), '#a95cb4', 1.5, null, 3, {yAxisID: 'yr'}),
        path([[cursorWeek,14],[cursorWeek,83.6]], '#c9c9c9', 2, [7,7], 2, {yAxisID: 'yr'})
    ]},
    plugins: [lowerDecor],
    options: {
        responsive: false, animation: false, events: [],
        layout: {padding: 0, autoPadding: false},
        plugins: {legend: {display: false}, tooltip: {enabled: false}},
        scales: {
            x: {
                type: 'linear', min: xMin, max: xMax, offset: false,
                afterFit: s => { s.height = 37; s.paddingLeft = 0; s.paddingRight = 0; },
                afterBuildTicks: s => { s.ticks = xTickWeeks.map(v => ({value: v})); },
                border: {color: '#444', width: 3},
                grid: {drawOnChartArea: false, drawTicks: true, tickLength: 8, color: '#555', offset: false},
                ticks: {
                    callback: (v, i) => xTickLabels[i], autoSkip: false, maxRotation: 0, color: '#444', padding: 3,
                    font: ctx => ({family: FONT, size: 22, weight: /^2/.test(xTickLabels[ctx.index]) ? 'bold' : 'normal'})
                }
            },
            yv: {
                type: 'linear', position: 'right', min: -7.43, max: 120,
                afterFit: fitWidth,
                afterBuildTicks: s => { s.ticks = volumeTicks.map(v => ({value: v})); },
                border: {color: '#555', width: 3},
                grid: {drawOnChartArea: false, drawTicks: true, tickLength: 8, color: '#555'},
                ticks: {callback: v => v ? v + 'M' : '0', color: '#555', padding: 5, font: {family: FONT, size: 22}}
            },
            yr: {type: 'linear', display: false, min: 14, max: 83.66}
        }
    }
});
</script>
</body>
</html>
